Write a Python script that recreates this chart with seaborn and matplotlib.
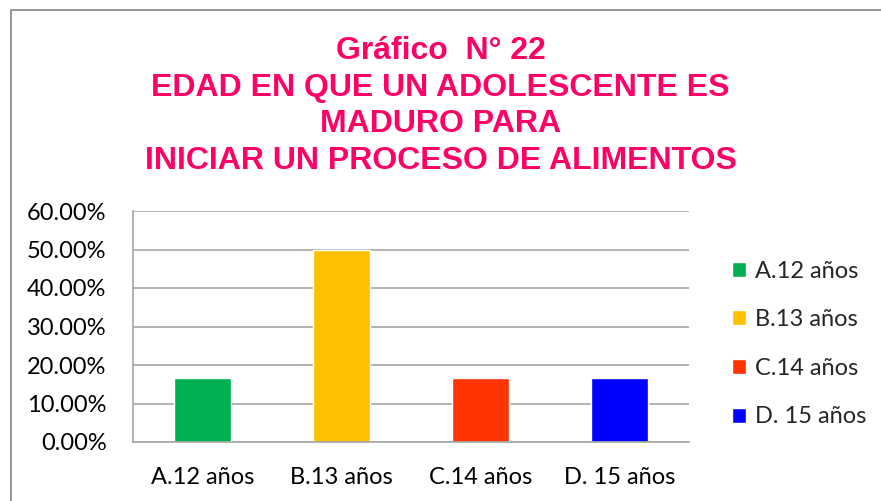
import matplotlib
matplotlib.use("Agg")
import matplotlib.pyplot as plt
import matplotlib.patches as mpatches
from matplotlib.ticker import PercentFormatter
import seaborn as sns
import pandas as pd

# ================= DATA =================
categorias = ["A.12 años", "B.13 años", "C.14 años", "D. 15 años"]
porcentajes = [16.67, 50.00, 16.67, 16.67]
colores = ["#00B050", "#FFC000", "#FF3300", "#0000FF"]
titulo = "Gráfico  N° 22\nEDAD EN QUE UN ADOLESCENTE ES\nMADURO PARA\nINICIAR UN PROCESO DE ALIMENTOS"
# =========================================

sns.set_theme(style="white")
plt.rcParams["font.family"] = ["Lato", "DejaVu Sans"]

df = pd.DataFrame({"categoria": categorias, "valor": porcentajes})

fig = plt.figure(figsize=(8.81, 5.01), dpi=100)
ax = fig.add_axes([133 / 881, 59 / 501, 556 / 881, 231 / 501])

sns.barplot(
    data=df, x="categoria", y="valor", hue="categoria",
    palette=colores, dodge=False, width=0.41, legend=True,
    saturation=1, ax=ax,
)

ax.set_ylim(0, 60)
ax.set_yticks(range(0, 61, 10))
ax.yaxis.set_major_formatter(PercentFormatter(decimals=2))
ax.grid(axis="y", color="#A6A6A6", linewidth=1.2)
ax.set_axisbelow(True)
ax.set_xlabel("")
ax.set_ylabel("")
for s in ["top", "right"]:
    ax.spines[s].set_visible(False)
for s in ["left", "bottom"]:
    ax.spines[s].set_color("#A6A6A6")
    ax.spines[s].set_linewidth(1.2)
ax.tick_params(axis="both", labelsize=17, colors="#000000", length=0)
ax.tick_params(axis="y", pad=19)
ax.tick_params(axis="x", pad=18)

# legend on the right
handles, labels = ax.get_legend_handles_labels()
ax.get_legend().remove()
fig.legend(
    handles, labels, loc="center left", bbox_to_anchor=(711 / 881, 1 - 344 / 501),
    frameon=False, fontsize=17, handlelength=0.6, handleheight=0.6,
    handletextpad=0.35, labelspacing=1.17,
)

# title
fig.text(
    0.5, 1 - 106 / 501, titulo, ha="center", va="center",
    fontsize=23, fontweight="bold", color="#FF0066", linespacing=1.29,
    family=["Liberation Sans", "DejaVu Sans"],
)

# chart area border
fig.add_artist(mpatches.Rectangle(
    (11 / 881, -0.05), 1.0, 1 - 10 / 501 + 0.05, transform=fig.transFigure,
    fill=False, edgecolor="#8C8C8C", linewidth=1.3,
))

fig.savefig("out.png", dpi=100)
